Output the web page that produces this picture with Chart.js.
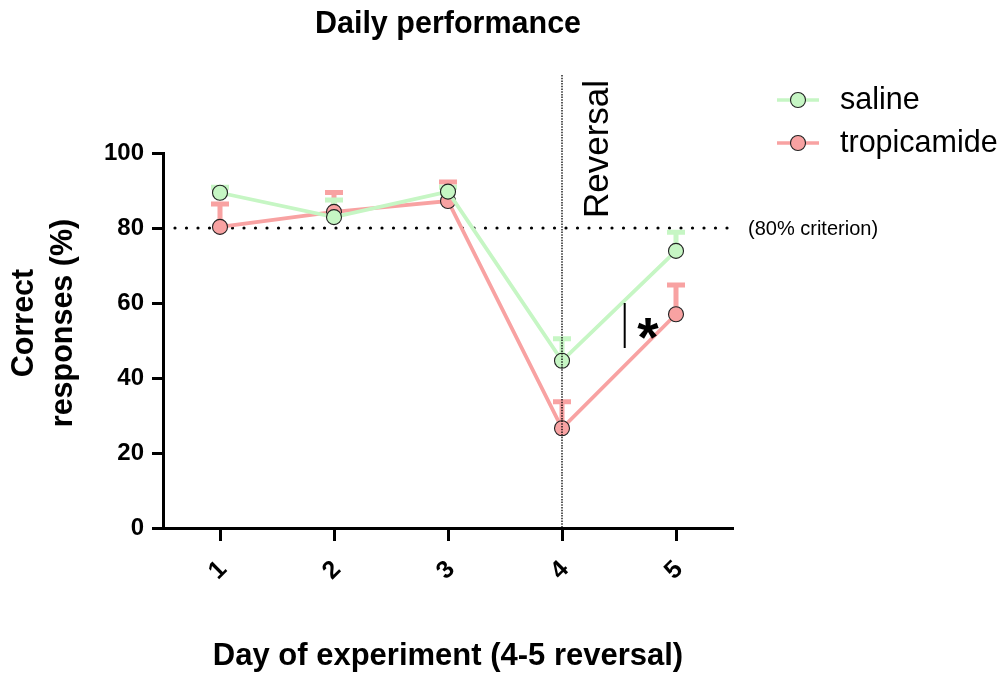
<!DOCTYPE html>
<html>
<head>
<meta charset="utf-8">
<script src="https://cdn.jsdelivr.net/npm/chart.js@4.4.1/dist/chart.umd.min.js"></script>
<style>
  html, body { margin: 0; padding: 0; background: #fff; }
  #wrap { width: 1005px; height: 678px; position: relative; }
</style>
</head>
<body>
<div id="wrap"><canvas id="c" width="1005" height="678"></canvas></div>
<script>
// ---- data ----
const days = ['1', '2', '3', '4', '5'];
const salineMean = [89.4, 82.9, 89.7, 44.6, 73.9];
const salineSem  = [1.5, 4.6, 1.2, 5.9, 5.0];
const tropMean   = [80.3, 84.3, 87.2, 26.6, 57.0];
const tropSem    = [6.1, 5.2, 5.1, 7.1, 7.8];
const yTicks     = [0, 20, 40, 60, 80, 100];
const criterion  = 80;
const reversalDay = 4;
const seriesNames = ['saline', 'tropicamide'];

// ---- styles ----
const GREEN = '#c6f6c4';
const PINK = '#f8a2a2';
const FONT = '"Liberation Sans", Arial, Helvetica, sans-serif';

const errs = [salineSem, tropSem];
const means = [salineMean, tropMean];
const colors = [GREEN, PINK];

const decor = {
  id: 'decor',
  beforeDatasetsDraw(chart) {
    const ctx = chart.ctx, x = chart.scales.x, y = chart.scales.y, ca = chart.chartArea;
    ctx.save();
    // 80% criterion dotted line
    const yc = y.getPixelForValue(criterion);
    ctx.strokeStyle = '#000';
    ctx.lineWidth = 3.2;
    ctx.lineCap = 'round';
    ctx.setLineDash([0, 11.5]);
    ctx.beginPath();
    ctx.moveTo(ca.left + 12, yc);
    ctx.lineTo(ca.right + 4, yc);
    ctx.stroke();
    ctx.setLineDash([]);
    // error bars (upper)
    ctx.lineCap = 'butt';
    for (let d = 1; d >= 0; d--) {
      const meta = chart.getDatasetMeta(d);
      ctx.strokeStyle = colors[d];
      ctx.lineWidth = 5;
      meta.data.forEach((pt, i) => {
        const top = y.getPixelForValue(means[d][i] + errs[d][i]);
        ctx.beginPath();
        ctx.moveTo(pt.x, pt.y);
        ctx.lineTo(pt.x, top);
        ctx.moveTo(pt.x - 9, top);
        ctx.lineTo(pt.x + 9, top);
        ctx.stroke();
      });
    }
    ctx.restore();
  },
  afterDatasetsDraw(chart) {
    const ctx = chart.ctx, x = chart.scales.x, y = chart.scales.y, ca = chart.chartArea;
    ctx.save();
    // reversal vertical line
    const xr = x.getPixelForValue(reversalDay - 1);
    ctx.strokeStyle = '#000';
    ctx.lineWidth = 1.3;
    ctx.setLineDash([1.5, 1.2]);
    ctx.beginPath();
    ctx.moveTo(xr, 75);
    ctx.lineTo(xr, ca.bottom + 2);
    ctx.stroke();
    ctx.setLineDash([]);
    // Reversal label
    ctx.fillStyle = '#000';
    ctx.save();
    ctx.translate(xr + 46, 218);
    ctx.rotate(-Math.PI / 2);
    ctx.font = '35px ' + FONT;
    ctx.textAlign = 'left';
    ctx.textBaseline = 'alphabetic';
    ctx.fillText('Reversal', 0, 0);
    ctx.restore();
    // criterion label
    ctx.font = '20px ' + FONT;
    ctx.textAlign = 'left';
    ctx.textBaseline = 'alphabetic';
    ctx.fillText('(80% criterion)', 748, y.getPixelForValue(criterion) + 7);
    // significance bar + asterisk
    const xs = x.getPixelForValue(3.55);
    ctx.lineWidth = 2;
    ctx.beginPath();
    ctx.moveTo(xs, y.getPixelForValue(60));
    ctx.lineTo(xs, y.getPixelForValue(48));
    ctx.stroke();
    ctx.font = 'bold 55px ' + FONT;
    ctx.textAlign = 'center';
    ctx.fillText('*', x.getPixelForValue(3.755), y.getPixelForValue(53.3) + 28);
    // chart title
    ctx.font = 'bold 30.5px ' + FONT;
    ctx.textAlign = 'center';
    ctx.fillText('Daily performance', (ca.left + ca.right) / 2, 33);
    // x title
    ctx.font = 'bold 31px ' + FONT;
    ctx.fillText('Day of experiment (4-5 reversal)', (ca.left + ca.right) / 2, 665);
    // y title
    ctx.save();
    ctx.translate(0, 323);
    ctx.rotate(-Math.PI / 2);
    ctx.font = 'bold 30.5px ' + FONT;
    ctx.textAlign = 'center';
    ctx.fillText('Correct', 0, 33);
    ctx.fillText('responses (%)', 0, 72);
    ctx.restore();
    // legend
    ctx.textAlign = 'left';
    ctx.textBaseline = 'middle';
    ctx.font = '30.5px ' + FONT;
    [100, 143].forEach((ly, k) => {
      ctx.strokeStyle = colors[k];
      ctx.lineWidth = 3.5;
      ctx.beginPath();
      ctx.moveTo(777, ly);
      ctx.lineTo(819, ly);
      ctx.stroke();
      ctx.beginPath();
      ctx.arc(798, ly, 7.5, 0, Math.PI * 2);
      ctx.fillStyle = colors[k];
      ctx.fill();
      ctx.strokeStyle = '#222';
      ctx.lineWidth = 1.1;
      ctx.stroke();
      ctx.fillStyle = '#000';
      ctx.fillText(seriesNames[k], 840, ly + 1);
    });
    ctx.restore();
  }
};

new Chart(document.getElementById('c'), {
  type: 'line',
  data: {
    labels: days,
    datasets: [
      { label: seriesNames[0], data: salineMean, borderColor: GREEN, backgroundColor: GREEN,
        borderWidth: 3.8, pointRadius: 7.5, pointBorderColor: '#222', pointBorderWidth: 1.1,
        pointBackgroundColor: GREEN, tension: 0, clip: false },
      { label: seriesNames[1], data: tropMean, borderColor: PINK, backgroundColor: PINK,
        borderWidth: 3.8, pointRadius: 7.5, pointBorderColor: '#222', pointBorderWidth: 1.1,
        pointBackgroundColor: PINK, tension: 0, clip: false }
    ]
  },
  options: {
    responsive: false,
    animation: false,
    events: [],
    layout: { padding: { left: 0, right: 272, top: 153, bottom: 0 } },
    plugins: { legend: { display: false }, title: { display: false }, tooltip: { enabled: false } },
    scales: {
      x: {
        type: 'category',
        offset: true,
        grid: { display: true, drawOnChartArea: false, drawTicks: true, tickLength: 13, tickWidth: 3, tickColor: '#000', offset: false },
        border: { display: true, width: 3, color: '#000' },
        ticks: { color: '#000', font: { family: FONT, size: 25, weight: 'bold' }, minRotation: 45, maxRotation: 45, padding: 14, labelOffset: 3 },
        afterFit(s) { s.height = 150; }
      },
      y: {
        min: 0, max: 100,
        grid: { display: true, drawOnChartArea: false, drawTicks: true, tickLength: 11, tickWidth: 3, tickColor: '#000' },
        border: { display: true, width: 3, color: '#000' },
        ticks: { color: '#000', font: { family: FONT, size: 24, weight: 'bold' }, padding: 8, stepSize: 20 },
        afterBuildTicks(s) { s.ticks = yTicks.map(v => ({ value: v })); },
        afterFit(s) { s.width = 163; }
      }
    }
  },
  plugins: [decor]
});
</script>
</body>
</html>
